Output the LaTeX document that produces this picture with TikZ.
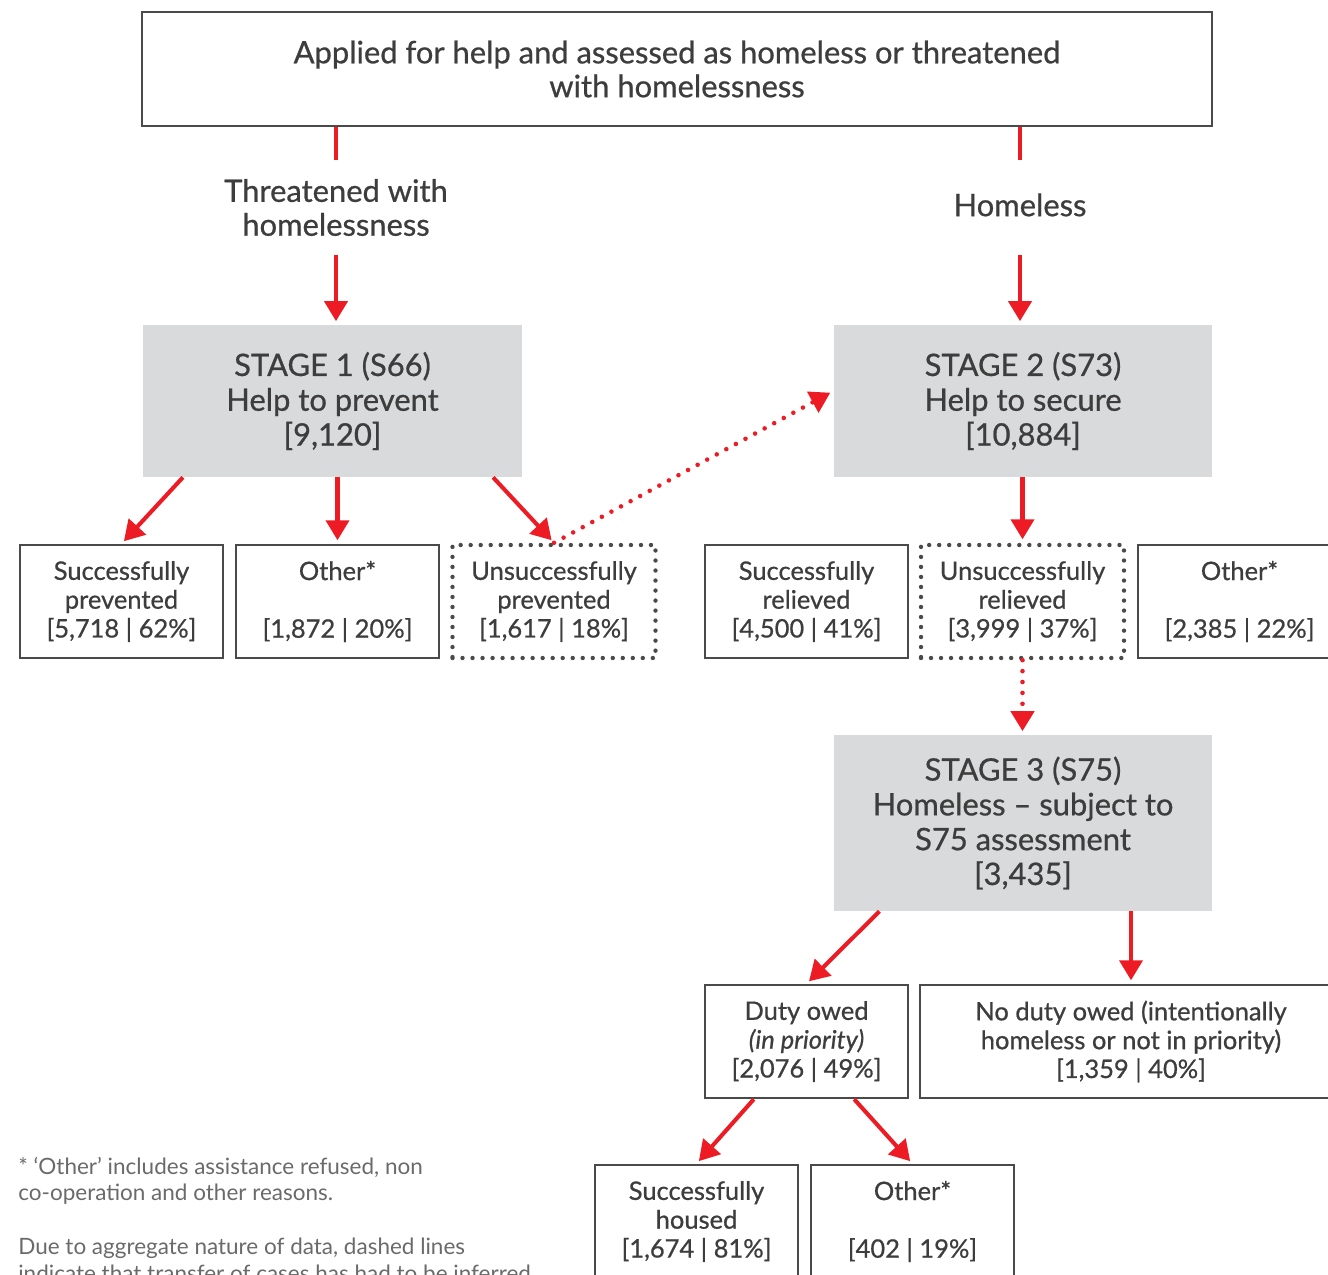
\documentclass[tikz,border=0pt]{standalone}
\usepackage{fontspec}
\setmainfont{Lato}[FakeBold=0.7]
\newfontfamily\notefont{Lato}[Ligatures=TeX]
\usetikzlibrary{arrows.meta}
\definecolor{hred}{HTML}{ED1C24}
\definecolor{hgrey}{HTML}{3D3D3D}
\definecolor{hline}{HTML}{4A4A4A}
\definecolor{hfill}{HTML}{D9DADC}
\definecolor{hnote}{HTML}{6A6A6A}
\begin{document}
\begin{tikzpicture}[
    txt/.style={text=hgrey, align=center, inner sep=0pt},
    big/.style={txt, font=\fontsize{17.6}{19.3}\selectfont},
    box/.style={txt, font=\fontsize{14.5}{16.4}\selectfont, draw=hline, line width=1.4pt,
      minimum width=4.06cm, minimum height=2.26cm},
    dotbox/.style={box, line cap=round, dash pattern=on 0pt off 5.7pt, line width=2.5pt},
    stage/.style={big, font=\fontsize{17.6}{19.8}\selectfont, fill=hfill, minimum width=7.57cm},
    redline/.style={draw=hred, line width=2.3pt},
    redarrow/.style={redline, -{Triangle[length=0.4cm,width=0.46cm]}, shorten >=2pt},
    reddots/.style={redarrow, line cap=round, dash pattern=on 0pt off 6.2pt, line width=2.6pt},
  ]
  \useasboundingbox (0,0) rectangle (26.56,-25.48);
  % header
  \node[big, draw=hline, line width=1.4pt, minimum width=21.4cm, minimum height=2.28cm] (app) at (13.54,-1.38)
    {Applied for help and assessed as homeless or threatened\\with homelessness};
  \node[big, minimum height=1.9cm] (thr) at (6.72,-4.15) {Threatened with\\homelessness};
  \node[big, minimum height=1.9cm] (hml) at (20.4,-4.15) {\raisebox{0.11cm}{Homeless}};
  % stages
  \node[stage, minimum height=3.04cm] (s1) at (6.65,-8.02) {STAGE 1 (S66)\\Help to prevent\\{[}9,120{]}};
  \node[stage, minimum height=3.04cm] (s2) at (20.46,-8.02) {STAGE 2 (S73)\\Help to secure\\{[}10,884{]}};
  \node[stage, minimum height=3.52cm] (s3) at (20.46,-16.46)
    {STAGE 3 (S75)\\Homeless -- subject to\\S75 assessment\\{[}3,435{]}};
  % outcomes
  \node[box] (prv) at (2.43,-12.03) {Successfully\\prevented\\{[}5,718 | 62\%{]}};
  \node[box] (oth1) at (6.75,-12.03) {Other*\\\strut\\{[}1,872 | 20\%{]}};
  \node[dotbox] (uprv) at (11.08,-12.03) {Unsuccessfully\\prevented\\{[}1,617 | 18\%{]}};
  \node[box] (rlv) at (16.13,-12.03) {Successfully\\relieved\\{[}4,500 | 41\%{]}};
  \node[dotbox] (urlv) at (20.45,-12.03) {Unsuccessfully\\relieved\\{[}3,999 | 37\%{]}};
  \node[box] (oth2) at (24.79,-12.03) {Other*\\\strut\\{[}2,385 | 22\%{]}};
  \node[box] (duty) at (16.13,-20.83) {Duty owed\\\textit{(in priority)}\\{[}2,076 | 49\%{]}};
  \node[box, minimum width=8.44cm] (nod) at (22.62,-20.83)
    {No duty owed (intentionally\\homeless or not in priority)\\{[}1,359 | 40\%{]}};
  \node[box] (hsd) at (13.93,-24.43) {Successfully\\housed\\{[}1,674 | 81\%{]}};
  \node[box] (oth3) at (18.25,-24.43) {Other*\\\strut\\{[}402 | 19\%{]}};
  % notes
  \node[anchor=north west, align=left, inner sep=0pt, text=hnote, font=\notefont\fontsize{12.8}{15.3}\selectfont] (note) at (0.36,-23.13)
    {* `Other' includes assistance refused, non\\co-operation and other reasons.\\\strut\\Due to aggregate nature of data, dashed lines\\indicate that transfer of cases has had to be inferred};
  % connectors
  \draw[redline] (app.south -| thr) -- (thr.north);
  \draw[redline] (app.south -| hml) -- (hml.north);
  \draw[redarrow] (thr.south) -- (thr.south |- s1.north);
  \draw[redarrow] (hml.south) -- (hml.south |- s2.north);
  \draw[redarrow] ([xshift=0.8cm]s1.south west) -- (prv.north);
  \draw[redarrow] (s1.south -| oth1.north) -- (oth1.north);
  \draw[redarrow] ([xshift=-0.58cm]s1.south east) -- (uprv.north);
  \draw[reddots] (uprv.north) -- ([yshift=0.2cm]s2.west);
  \draw[redarrow] (s2.south -| urlv.north) -- (urlv.north);
  \draw[reddots] (urlv.south) -- (s3.north -| urlv.south);
  \draw[redarrow] ([xshift=0.92cm]s3.south west) -- (duty.north);
  \draw[redarrow] (s3.south -| nod.north) -- (nod.north);
  \draw[redarrow] ([xshift=1cm]duty.south west) -- (hsd.north);
  \draw[redarrow] ([xshift=-1.1cm]duty.south east) -- (oth3.north);
\end{tikzpicture}
\end{document}
